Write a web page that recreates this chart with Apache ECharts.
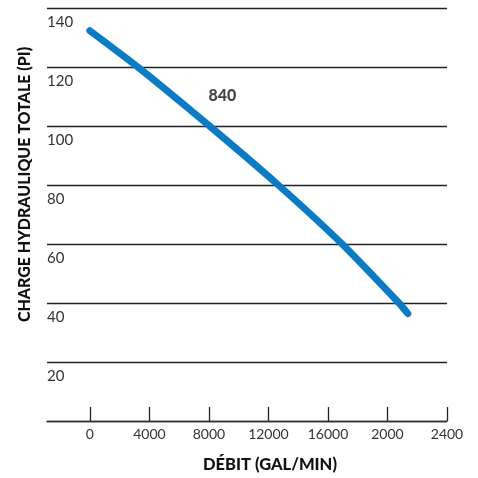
<!DOCTYPE html>
<html>
    <head>
        <meta charset="utf-8">
        <title>840</title>
        <script src="https://cdn.jsdelivr.net/npm/echarts@6/dist/echarts.min.js"></script>
        <style>
            html, body { margin: 0; padding: 0; background: #fff; }
            #chart1 { width: 478px; height: 478px; }
        </style>
    </head>
    <body>
        <div id="chart1"></div>
        <script type="text/javascript">
            // courbe 840 : débit (gal/min) -> charge (pi)
            const debit = [0, 3220, 8040, 12660, 16950, 20770, 21370];
            const charge = [132.3, 120, 100, 80, 60, 40, 36.4];
            const xTicks = [0, 4000, 8000, 12000, 16000, 20000, 24000];
            const xTickLabels = ['0', '4000', '8000', '12000', '16000', '2000', '2400'];
            const curveName = '840';
            const curveLabelAt = [8910, 110.3];

            const font = 'Lato, "Open Sans", sans-serif';
            const myChart1 = echarts.init(document.getElementById('chart1'));

            myChart1.setOption({
                animation: false,
                grid: { left: 47, right: 31, top: 8, bottom: 51 },
                xAxis: {
                    type: 'value',
                    min: -2880,
                    max: 24000,
                    name: 'DÉBIT (GAL/MIN)',
                    nameLocation: 'middle',
                    nameGap: 35,
                    nameTextStyle: { fontFamily: font, fontWeight: 900, fontSize: 16.5, color: '#111', padding: [0, 0, 0, 46] },
                    axisLine: { lineStyle: { color: '#333', width: 1.3 } },
                    axisTick: {
                        show: true, inside: true, length: 14,
                        customValues: xTicks,
                        lineStyle: { color: '#222', width: 1.3 }
                    },
                    axisLabel: {
                        customValues: xTicks,
                        margin: 6,
                        fontFamily: font, fontSize: 14, color: '#333',
                        formatter: (v) => xTickLabels[xTicks.indexOf(v)]
                    },
                    splitLine: { show: false }
                },
                yAxis: {
                    type: 'value',
                    min: 0, max: 140, interval: 20,
                    name: 'CHARGE HYDRAULIQUE TOTALE (PI)',
                    nameLocation: 'middle',
                    nameGap: 14,
                    nameRotate: 90,
                    nameTextStyle: { fontFamily: font, fontWeight: 900, fontSize: 16, color: '#111', padding: [0, 0, 0, 60] },
                    axisLine: { show: false },
                    axisTick: { show: false },
                    axisLabel: {
                        inside: true, margin: 0,
                        verticalAlign: 'top',
                        padding: [7, 0, 0, 0],
                        fontFamily: font, fontSize: 15, color: '#333',
                        formatter: (v) => v === 0 ? '' : String(v)
                    },
                    splitLine: { lineStyle: { color: '#222', width: 1.3 } }
                },
                series: [
                    {
                        name: curveName,
                        type: 'line',
                        smooth: 0.2,
                        symbol: 'none',
                        data: debit.map((d, i) => [d, charge[i]]),
                        lineStyle: { color: '#0b7bc6', width: 7, cap: 'round', join: 'round' }
                    },
                    {
                        type: 'scatter',
                        symbolSize: 0,
                        data: [curveLabelAt],
                        label: {
                            show: true, position: 'inside',
                            formatter: curveName,
                            fontFamily: font, fontWeight: 900, fontSize: 16, color: '#111'
                        }
                    }
                ]
            });
        </script>
    </body>
</html>
